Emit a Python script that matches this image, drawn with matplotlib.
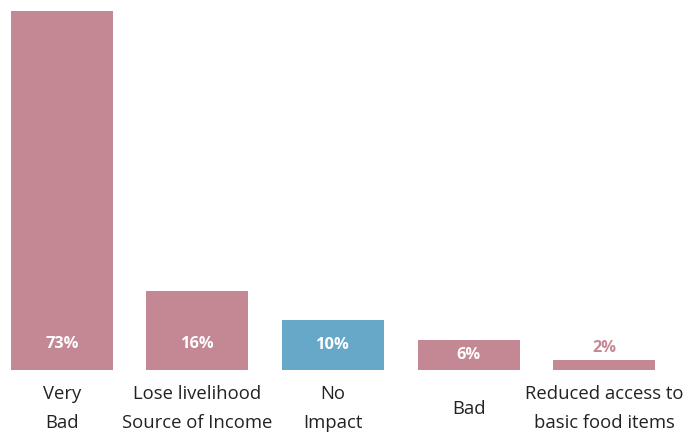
import matplotlib
matplotlib.use('Agg')
import matplotlib.pyplot as plt
import matplotlib.transforms as mt

categories = ['Very\nBad', 'Lose livelihood\nSource of Income', 'No\nImpact', 'Bad',
              'Reduced access to\nbasic food items']
values = [73, 16, 10, 6, 2]
colors = ['#C48894', '#C48894', '#67A8C8', '#C48894', '#C48894']

plt.rcParams['font.family'] = ['Open Sans', 'DejaVu Sans']

fig = plt.figure(figsize=(6.85, 4.32), dpi=100)
ax = fig.add_axes([11/685, (432-369.5)/432, 644/685, (369.5-11)/432])
x = list(range(len(values)))
ax.bar(x, values, width=0.753, color=colors)
ax.set_xlim(-0.375, 4.375)
ax.set_ylim(0, 73)
ax.axis('off')

inside = 25.5 / 358.5 * 73  # label height above the base, in data units
lbl_tr = mt.blended_transform_factory(ax.transData, ax.transAxes)
for i, (v, c) in enumerate(zip(values, colors)):
    if v >= 5:
        ax.text(i, min(inside, v / 2), f'{v}%', ha='center', va='center',
                color='white', fontsize=11.8, fontweight='bold')
    else:
        ax.annotate(f'{v}%', (i, v), xytext=(0, 8.6), textcoords='offset points',
                    ha='center', va='center', color=c, fontsize=11.8, fontweight='bold')
    ax.annotate(categories[i], (i, 0), xycoords=lbl_tr, xytext=(0, -28.2),
                textcoords='offset points', ha='center', va='center',
                color='#222222', fontsize=13.3, linespacing=1.8)

fig.savefig('out.png', dpi=100)
